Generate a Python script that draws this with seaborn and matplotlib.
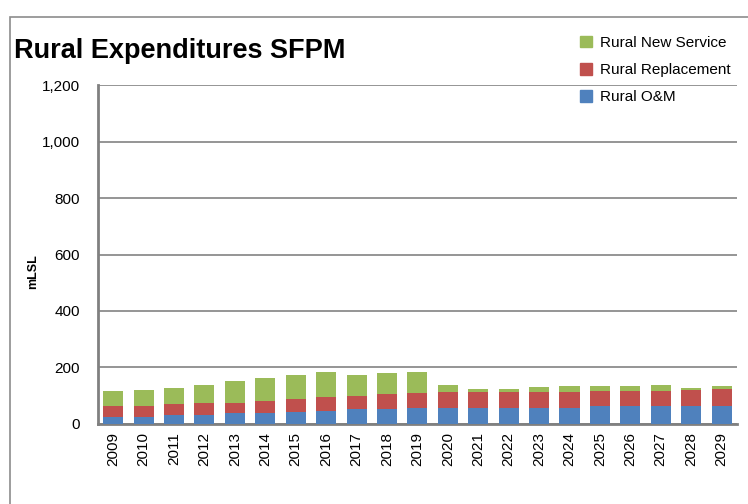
import numpy as np
import pandas as pd
import seaborn as sns
from matplotlib import pyplot as plt
from matplotlib.patches import Rectangle, Patch

years = [str(y) for y in range(2009, 2030)]
rural_om = [26, 26, 33, 33, 37, 37, 42, 44, 51, 51, 56, 56, 56, 56, 56, 56, 63, 63, 63, 63, 63]
rural_replacement = [39, 39, 36, 40, 36, 43, 45, 50, 47, 54, 52, 56, 56, 56, 56, 56, 52, 52, 52, 56, 60]
rural_new_service = [50, 54, 57, 64, 78, 82, 86, 89, 75, 75, 75, 25, 11, 11, 18, 21, 18, 18, 22, 7, 10]

colors = {"om": "#4F81BD", "repl": "#C0504D", "new": "#9BBB59"}


def main():
    df = pd.DataFrame({"Year": years, "OM": rural_om,
                       "Repl": rural_replacement, "New": rural_new_service})
    # cumulative tops so overlapping bars look stacked
    df["Top_Repl"] = df["OM"] + df["Repl"]
    df["Top_New"] = df["Top_Repl"] + df["New"]

    sns.set_style("white")
    plt.rcParams["font.family"] = ["Liberation Sans", "DejaVu Sans"]
    plt.rcParams["text.color"] = "black"
    plt.rcParams["xtick.color"] = "black"
    plt.rcParams["ytick.color"] = "black"
    plt.rcParams["axes.labelcolor"] = "black"

    fig = plt.figure(figsize=(7.48, 5.04), dpi=100)
    ax = fig.add_axes([0.131, 0.159, 0.854, 0.672])

    for col, c in [("Top_New", colors["new"]), ("Top_Repl", colors["repl"]), ("OM", colors["om"])]:
        sns.barplot(data=df, x="Year", y=col, color=c, saturation=1, width=0.66,
                    linewidth=0, ax=ax, zorder=3)

    ax.set_ylim(0, 1200)
    ax.set_yticks(np.arange(0, 1201, 200))
    ax.set_yticklabels([f"{v:,}" for v in range(0, 1201, 200)], fontsize=11)
    ax.set_xlim(-0.5, len(years) - 0.5)
    ax.tick_params(axis="x", labelrotation=90, labelsize=11, pad=6, length=0)
    ax.tick_params(axis="y", pad=13, length=0)
    ax.yaxis.grid(True, color="#8c8c8c", linewidth=1.3, zorder=0)
    ax.set_axisbelow(True)
    for s in ["top", "right"]:
        ax.spines[s].set_visible(False)
    for s in ["left", "bottom"]:
        ax.spines[s].set_color("#808080")
        ax.spines[s].set_linewidth(2)
    ax.set_xlabel("")
    ax.set_ylabel("mLSL", fontsize=9, fontweight="bold")
    ax.yaxis.set_label_coords(-0.092, 0.45)

    fig.text(10 / 748 + 0.005, 1 - 51 / 504, "Rural Expenditures SFPM",
             fontsize=19.5, fontweight="bold", va="center", ha="left")

    handles = [Patch(color=colors["new"], label="Rural New Service"),
               Patch(color=colors["repl"], label="Rural Replacement"),
               Patch(color=colors["om"], label="Rural O&M")]
    fig.legend(handles=handles, loc="upper left", bbox_to_anchor=(566 / 748, 1 - 22 / 504),
               frameon=False, fontsize=11, handlelength=0.8, handleheight=0.8,
               handletextpad=0.5, labelspacing=0.85)

    # chart-area border, cut off at right and bottom as in the original
    fig.patches.append(Rectangle((10 / 748, -0.1), 1.2, 0.1 + 1 - 17 / 504,
                                 transform=fig.transFigure, fill=False,
                                 edgecolor="#8c8c8c", linewidth=1.2, clip_on=False))

    plt.savefig("out.png", dpi=100)
    return 0


if __name__ == "__main__":
    main()
